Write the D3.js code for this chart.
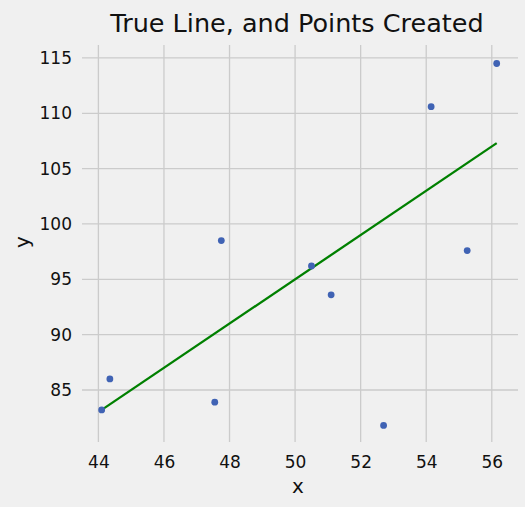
<!DOCTYPE html>
<html><head><meta charset="utf-8">
<script src="https://cdn.jsdelivr.net/npm/d3@7"></script>
<style>body{margin:0;background:#f0f0f0;font-family:"DejaVu Sans",sans-serif}</style>
</head><body><div id="chart"></div>
<script>
var xs = [44.1, 44.35, 47.55, 47.75, 50.5, 51.1, 52.7, 54.15, 55.25, 56.15];
var ys = [83.2, 86.0, 83.9, 98.5, 96.2, 93.6, 81.8, 110.6, 97.6, 114.5];
var lineX = [44.1, 56.15];
var lineY = [83.2, 107.3];
var xTicks = [44, 46, 48, 50, 52, 54, 56];
var yTicks = [85, 90, 95, 100, 105, 110, 115];

var W = 525, H = 507;
var m = {left: 82, right: 518, top: 45, bottom: 442};
var svg = d3.select('#chart').append('svg').attr('width', W).attr('height', H);
svg.append('rect').attr('width', W).attr('height', H).attr('fill', '#f0f0f0');

var x = d3.scaleLinear().domain([43.5, 56.8]).range([m.left, m.right]);
var y = d3.scaleLinear().domain([80.3, 116.17]).range([m.bottom, m.top]);

var g = svg.append('g');
g.selectAll('.gx').data(xTicks).enter().append('line')
    .attr('x1', x).attr('x2', x).attr('y1', m.top).attr('y2', m.bottom)
    .attr('stroke', '#cbcbcb').attr('stroke-width', 1.3);
g.selectAll('.gy').data(yTicks).enter().append('line')
    .attr('y1', y).attr('y2', y).attr('x1', m.left).attr('x2', m.right)
    .attr('stroke', '#cbcbcb').attr('stroke-width', 1.3);

var xa = svg.append('g').attr('transform', 'translate(0,' + m.bottom + ')')
    .call(d3.axisBottom(x).tickValues(xTicks).tickSize(0).tickPadding(14));
var ya = svg.append('g').attr('transform', 'translate(' + m.left + ',0)')
    .call(d3.axisLeft(y).tickValues(yTicks).tickSize(0).tickPadding(10));
[xa, ya].forEach(function (a) {
    a.select('.domain').remove();
    a.selectAll('text').attr('font-size', 17).attr('fill', '#111')
        .attr('font-family', '"DejaVu Sans", sans-serif');
});

svg.append('path')
    .attr('d', d3.line()([[x(lineX[0]), y(lineY[0])], [x(lineX[1]), y(lineY[1])]]))
    .attr('stroke', '#008000').attr('stroke-width', 2.3).attr('fill', 'none');

svg.selectAll('circle').data(xs).enter().append('circle')
    .attr('cx', function (d) { return x(d); })
    .attr('cy', function (d, i) { return y(ys[i]); })
    .attr('r', 3.4).attr('fill', '#4063b4');

svg.append('text').attr('x', 297).attr('y', 32).attr('text-anchor', 'middle')
    .attr('font-size', 25.5).attr('fill', '#111').text('True Line, and Points Created');
svg.append('text').attr('x', 298).attr('y', 493).attr('text-anchor', 'middle')
    .attr('font-size', 20).attr('fill', '#111').text('x');
svg.append('text').attr('transform', 'translate(29,242) rotate(-90)').attr('text-anchor', 'middle')
    .attr('font-size', 20).attr('fill', '#111').text('y');
</script></body></html>
